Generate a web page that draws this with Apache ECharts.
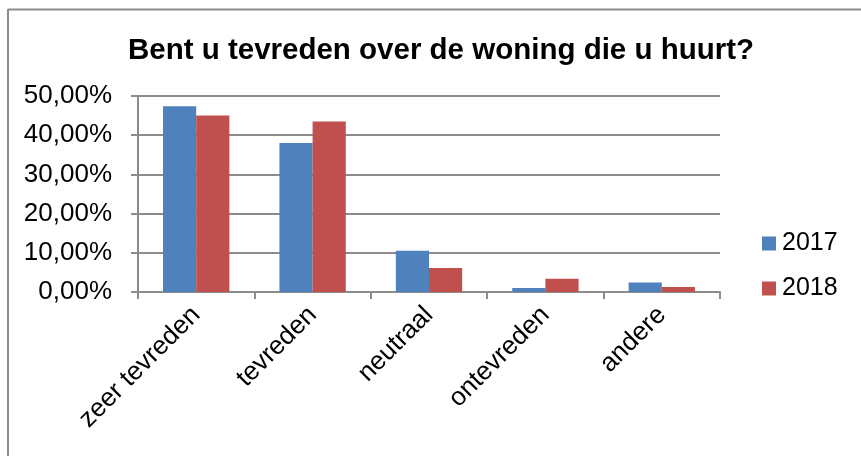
<!DOCTYPE html>
<html>
<head>
<meta charset="utf-8">
<script src="https://cdn.jsdelivr.net/npm/echarts@6/dist/echarts.min.js"></script>
<style>
  html, body { margin: 0; padding: 0; background: #fff; }
  #chart { width: 861px; height: 456px; }
</style>
</head>
<body>
<div id="chart"></div>
<script>
// data (percent)
var categories = ['zeer tevreden', 'tevreden', 'neutraal', 'ontevreden', 'andere'];
var values2017 = [47.4, 38.0, 10.5, 1.0, 2.4];
var values2018 = [45.0, 43.5, 6.1, 3.4, 1.3];
var yTicks = [0, 10, 20, 30, 40, 50];

var myChart = echarts.init(document.getElementById('chart'));

var font = 'Liberation Sans, Arial, sans-serif';
var gridColor = '#8c8c8c';

var option = {
    backgroundColor: '#fff',
    animation: false,
    textStyle: { fontFamily: font },
    title: {
        text: 'Bent u tevreden over de woning die u huurt?',
        left: 436,
        textAlign: 'center',
        top: 31,
        textStyle: { color: '#000', fontSize: 29.5, fontWeight: 'bold', fontFamily: font }
    },
    legend: {
        orient: 'vertical',
        left: 757,
        top: 226,
        itemWidth: 14,
        itemHeight: 14,
        itemGap: 20,
        icon: 'rect',
        textStyle: { color: '#000', fontSize: 25, lineHeight: 25, fontFamily: font, padding: [0, 0, 0, 1] }
    },
    grid: { left: 138, right: 141, top: 96, bottom: 164 },
    xAxis: {
        type: 'category',
        data: categories,
        axisLine: { lineStyle: { color: gridColor, width: 2 } },
        axisTick: { show: true, length: 7, lineStyle: { color: gridColor, width: 2 } },
        axisLabel: {
            rotate: 45,
            color: '#000',
            fontSize: 26,
            fontFamily: font,
            margin: 19
        }
    },
    yAxis: {
        type: 'value',
        min: yTicks[0],
        max: yTicks[yTicks.length - 1],
        interval: 10,
        axisLine: { show: true, lineStyle: { color: gridColor, width: 2 } },
        axisTick: { show: true, length: 7, lineStyle: { color: gridColor, width: 2 } },
        splitLine: { lineStyle: { color: gridColor, width: 2 } },
        axisLabel: {
            color: '#000',
            fontSize: 26,
            fontFamily: font,
            margin: 26,
            formatter: function (v) { return v.toFixed(2).replace('.', ',') + '%'; }
        }
    },
    series: [
        {
            name: '2017',
            type: 'bar',
            data: values2017,
            barGap: '0%',
            barCategoryGap: '43%',
            itemStyle: { color: '#4f81bd' }
        },
        {
            name: '2018',
            type: 'bar',
            data: values2018,
            itemStyle: { color: '#c0504d' }
        }
    ],
    graphic: [
        { type: 'line', shape: { x1: 8, y1: 9.5, x2: 861, y2: 9.5 }, style: { stroke: '#8c8c8c', lineWidth: 2 } },
        { type: 'line', shape: { x1: 8, y1: 9, x2: 8, y2: 456 }, style: { stroke: '#8c8c8c', lineWidth: 2 } }
    ]
};

myChart.setOption(option);
</script>
</body>
</html>
